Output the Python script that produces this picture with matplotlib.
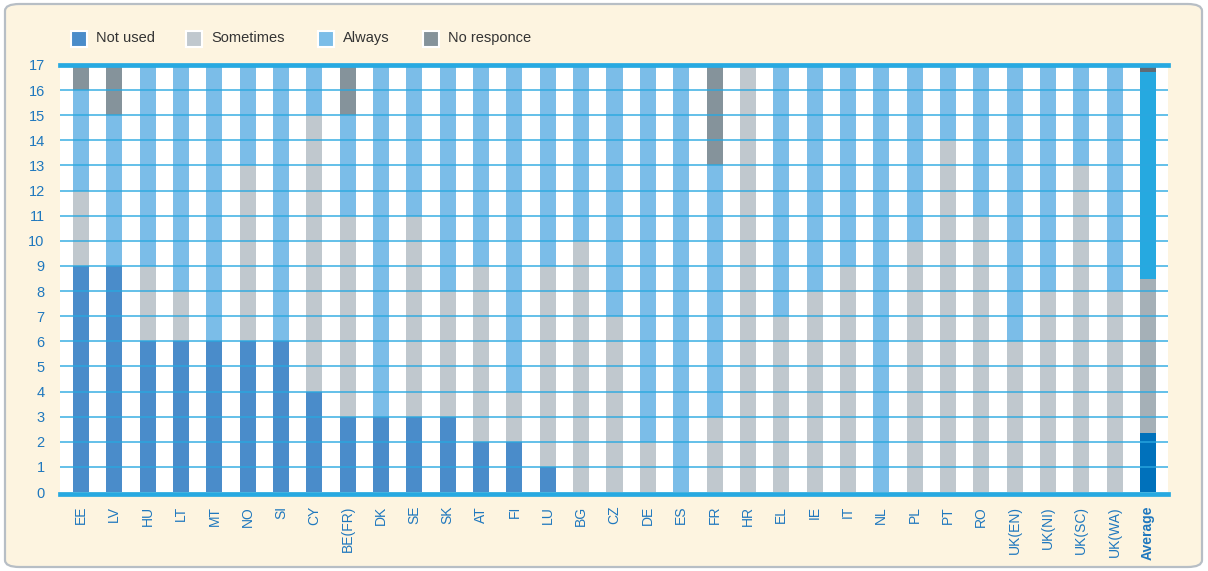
import matplotlib
matplotlib.use("Agg")
import matplotlib.pyplot as plt
from matplotlib.patches import FancyBboxPatch, Rectangle
import numpy as np

countries = ["EE", "LV", "HU", "LT", "MT", "NO", "SI", "CY", "BE(FR)", "DK", "SE", "SK",
             "AT", "FI", "LU", "BG", "CZ", "DE", "ES", "FR", "HR", "EL", "IE", "IT", "NL",
             "PL", "PT", "RO", "UK(EN)", "UK(NI)", "UK(SC)", "UK(WA)", "Average"]
not_used = [9, 9, 6, 6, 6, 6, 6, 4, 3, 3, 3, 3, 2, 2, 1, 0, 0, 0, 0, 0, 0, 0, 0, 0, 0,
            0, 0, 0, 0, 0, 0, 0, 2.34]
sometimes = [3, 0, 3, 2, 0, 7, 0, 11, 8, 0, 8, 5, 7, 2, 8, 10, 7, 2, 0, 3, 17, 7, 8, 9, 0,
             10, 14, 11, 6, 8, 13, 8, 6.16]
always = [4, 6, 8, 9, 11, 4, 11, 2, 4, 14, 6, 9, 8, 13, 8, 7, 10, 15, 17, 10, 0, 10, 9, 8, 17,
          7, 3, 6, 11, 9, 4, 9, 8.22]
no_resp = [1, 2, 0, 0, 0, 0, 0, 0, 2, 0, 0, 0, 0, 0, 0, 0, 0, 0, 0, 4, 0, 0, 0, 0, 0,
           0, 0, 0, 0, 0, 0, 0, 0.28]
series_names = ["Not used", "Sometimes", "Always", "No responce"]
yticks = list(range(0, 18))

col_norm = ["#4A8CCA", "#C0C8CE", "#7BBDE8", "#85939B"]
col_avg = ["#0071BB", "#A5B0B7", "#26A9E0", "#5F6B75"]
blue_txt = "#1F78BE"
FONT = ["Liberation Sans Narrow", "Liberation Sans", "DejaVu Sans"]
plt.rcParams["font.family"] = FONT

fig = plt.figure(figsize=(12.08, 5.71), dpi=100)
fig.patch.set_facecolor("white")
W, H = 1208, 571
bg = FancyBboxPatch((5 / W, 4 / H), 1197 / W, 563 / H,
                    boxstyle="round,pad=0,rounding_size=0.012",
                    transform=fig.transFigure, facecolor="#FDF4E0",
                    edgecolor="#B7BEC5", linewidth=1.6, zorder=-10)
fig.patches.append(bg)

ax = fig.add_axes([60 / W, 1 - 492 / H, (1168 - 60) / W, (492 - 65) / H])
ax.set_zorder(5)
ax.set_facecolor("white")
x = np.arange(len(countries))
data = [not_used, sometimes, always, no_resp]
bottom = np.zeros(len(countries))
for i, vals in enumerate(data):
    vals = np.array(vals, dtype=float)
    colors = [col_norm[i]] * (len(countries) - 1) + [col_avg[i]]
    ax.bar(x, vals, 0.48, bottom=bottom, color=colors, zorder=2, linewidth=0)
    bottom += vals

for y in range(1, 17):
    ax.axhline(y, color="#29A8E0", lw=1.2, alpha=0.85, zorder=3)
ax.axhline(17, color="#27A9E1", lw=3.4, zorder=4, clip_on=False)
ax.axhline(-0.08, color="#27A9E1", lw=3.4, zorder=4, clip_on=False)

ax.set_xlim(-0.63, 32.6)
ax.set_ylim(0, 17)
for s in ax.spines.values():
    s.set_visible(False)
ax.set_yticks(yticks)
ax.set_yticklabels([str(t) for t in yticks], fontsize=10.5, color=blue_txt)
ax.set_xticks(x)
ax.set_xticklabels(countries, rotation=90, fontsize=10, color=blue_txt, va="top")
ax.get_xticklabels()[-1].set_fontweight("bold")
ax.tick_params(axis="both", length=0)
ax.tick_params(axis="y", pad=11)
ax.tick_params(axis="x", pad=10)

# legend
lx = [71, 186, 318, 423]
for i, name in enumerate(series_names):
    fig.patches.append(Rectangle((lx[i] / W, 1 - 47 / H), 16 / W, 16 / H,
                                 transform=fig.transFigure, facecolor=col_norm[i],
                                 edgecolor="white", linewidth=1.5, zorder=2))
    fig.text((lx[i] + 25) / W, 1 - 38 / H, name, fontsize=10.5, color="#333333",
             va="center", ha="left")

fig.savefig("out.png", dpi=100, facecolor=fig.get_facecolor())
